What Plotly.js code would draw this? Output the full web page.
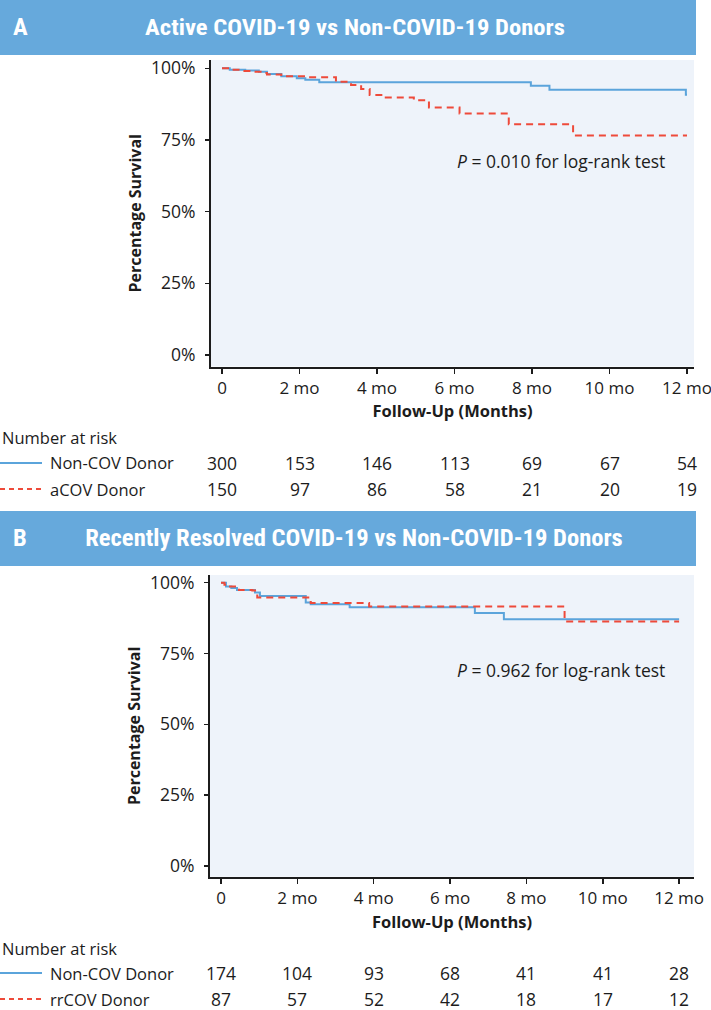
<!DOCTYPE html>
<html><head><meta charset="utf-8">
<script src="https://cdn.plot.ly/plotly-3.0.1.min.js"></script>
<style>html,body{margin:0;padding:0;background:#fff}#chart{width:711px;height:1010px}</style>
</head><body><div id="chart"></div>
<script>
// ---- Data ----
const monthsA_nonCov = [0, 0.2, 0.6, 0.95, 1.16, 1.53, 1.93, 2.15, 2.51, 7.97, 8.45, 11.97, 12.0];
const survA_nonCov   = [100, 99.5, 99.2, 98.8, 98.0, 97.2, 96.5, 96.0, 95.1, 93.9, 92.5, 90.8, 90.8];
const monthsA_aCov   = [0, 0.3, 0.55, 0.8, 1.05, 1.16, 1.53, 2.2, 2.94, 3.33, 3.59, 3.81, 4.2, 4.95, 5.34, 6.13, 7.4, 9.06, 12.0];
const survA_aCov     = [100, 99.5, 99.1, 98.8, 98.4, 97.8, 97.2, 96.9, 95.3, 94.2, 92.8, 90.7, 89.8, 88.9, 86.3, 84.2, 80.5, 76.6, 76.6];

const monthsB_nonCov = [0, 0.13, 0.27, 0.42, 0.89, 1.02, 2.22, 2.35, 3.37, 6.65, 7.41, 12.0];
const survB_nonCov   = [100, 98.6, 98.1, 97.4, 96.5, 95.3, 93.0, 92.4, 91.3, 89.3, 87.1, 87.1];
const monthsB_rrCov  = [0, 0.09, 0.18, 0.47, 0.82, 0.95, 2.35, 3.88, 9.0, 12.0];
const survB_rrCov    = [100, 99.3, 98.6, 97.4, 97.2, 94.8, 92.8, 91.6, 86.3, 86.3];

const xTickVals  = [0, 2, 4, 6, 8, 10, 12];
const xTickText  = ["0", "2 mo", "4 mo", "6 mo", "8 mo", "10 mo", "12 mo"];
const yTickVals  = [0, 25, 50, 75, 100];
const yTickText  = ["0%", "25%", "50%", "75%", "100%"];

const riskA_nonCov = [300, 153, 146, 113, 69, 67, 54];
const riskA_aCov   = [150, 97, 86, 58, 21, 20, 19];
const riskB_nonCov = [174, 104, 93, 68, 41, 41, 28];
const riskB_rrCov  = [87, 57, 52, 42, 18, 17, 12];

const titleA = "Active COVID-19 vs Non-COVID-19 Donors";
const titleB = "Recently Resolved COVID-19 vs Non-COVID-19 Donors";
const pTextA = "<i>P</i> = 0.010 for log-rank test";
const pTextB = "<i>P</i> = 0.962 for log-rank test";
const seriesNames = {A: ["Non-COV Donor", "aCOV Donor"], B: ["Non-COV Donor", "rrCOV Donor"]};

// ---- Styling / geometry ----
const W = 711, H = 1010;
const px = v => v / W;
const py = v => 1 - v / H;
const BLUE = "#5BA4DB", RED = "#EE4A3A", BAR = "#66A9DC", INK = "#1c1c1c", BG = "#EEF3FA";
const FONT = "Open Sans, Noto Sans, sans-serif";
const HFONT = "Roboto Condensed, Liberation Sans Narrow, Roboto, sans-serif";

function xaxisCfg(domain, range) {
  return {
    domain: domain, range: range, tickvals: xTickVals, ticktext: xTickText,
    showline: true, linecolor: INK, linewidth: 2, ticks: "outside", ticklen: 5, tickwidth: 1.5, tickcolor: INK,
    showgrid: false, zeroline: false, fixedrange: true, ticklabeloverflow: "allow",
    tickfont: {family: FONT, size: 17, color: INK},
    title: {text: "<b>Follow-Up (Months)</b>", font: {family: FONT, size: 16.5, color: INK}, standoff: 8}
  };
}
function yaxisCfg(domain, range, anchor) {
  return {
    domain: domain, range: range, tickvals: yTickVals, ticktext: yTickText, anchor: anchor,
    showline: true, linecolor: INK, linewidth: 2, ticks: "outside", ticklen: 4, tickwidth: 1.5, tickcolor: INK,
    showgrid: false, zeroline: false, fixedrange: true, ticklabelstandoff: 6,
    tickfont: {family: FONT, size: 17.5, color: INK},
    title: {text: "<b>Percentage Survival</b>", font: {family: FONT, size: 16, color: INK}, standoff: 5}
  };
}

const traces = [
  {x: monthsA_nonCov, y: survA_nonCov, xaxis: "x", yaxis: "y", mode: "lines", line: {shape: "hv", color: BLUE, width: 2}, name: seriesNames.A[0]},
  {x: monthsA_aCov, y: survA_aCov, xaxis: "x", yaxis: "y", mode: "lines", line: {shape: "hv", color: RED, width: 2, dash: "7px,5px"}, name: seriesNames.A[1]},
  {x: monthsB_nonCov, y: survB_nonCov, xaxis: "x2", yaxis: "y2", mode: "lines", line: {shape: "hv", color: BLUE, width: 2}, name: seriesNames.B[0]},
  {x: monthsB_rrCov, y: survB_rrCov, xaxis: "x2", yaxis: "y2", mode: "lines", line: {shape: "hv", color: RED, width: 2, dash: "7px,5px"}, name: seriesNames.B[1]}
];

const annotations = [];
const shapes = [];

function header(top, bottom, letter, title, titleX) {
  shapes.push({type: "rect", xref: "paper", yref: "paper", x0: 0, x1: px(696), y0: py(bottom), y1: py(top), fillcolor: BAR, line: {width: 0}, layer: "below"});
  const yc = py((top + bottom) / 2);
  annotations.push({xref: "paper", yref: "paper", x: px(11), y: yc, xanchor: "left", yanchor: "middle", showarrow: false,
    text: "<b>" + letter + "</b>", font: {family: HFONT, size: 23, color: "#ffffff"}});
  annotations.push({xref: "paper", yref: "paper", x: px(titleX), y: yc, xanchor: "left", yanchor: "middle", showarrow: false,
    text: "<b>" + title + "</b>", font: {family: HFONT, size: 23, color: "#ffffff"}});
}
header(0, 55, "A", titleA, 143);
header(511, 566, "B", titleB, 83);

function riskTable(xref, yHead, names, r1, r2) {
  annotations.push({xref: "paper", yref: "paper", x: 0, y: py(yHead), xanchor: "left", yanchor: "middle", showarrow: false,
    text: "Number at risk", font: {family: FONT, size: 16.5, color: INK}});
  const rows = [[names[0], r1, yHead + 25, BLUE, "solid"], [names[1], r2, yHead + 51, RED, "dash"]];
  rows.forEach(([nm, vals, yy, col, dash]) => {
    shapes.push({type: "line", xref: "paper", yref: "paper", x0: 0, x1: px(42), y0: py(yy), y1: py(yy),
      line: {color: col, width: 2, dash: dash === "dash" ? "5px,4px" : "solid"}});
    annotations.push({xref: "paper", yref: "paper", x: px(48), y: py(yy), xanchor: "left", yanchor: "middle", showarrow: false,
      text: nm, font: {family: FONT, size: 16.5, color: INK}});
    vals.forEach((v, i) => annotations.push({xref: xref, yref: "paper", x: xTickVals[i], y: py(yy), xanchor: "center", yanchor: "middle",
      showarrow: false, text: String(v), font: {family: FONT, size: 17.5, color: INK}}));
  });
}
riskTable("x", 438, seriesNames.A, riskA_nonCov, riskA_aCov);
riskTable("x2", 948, seriesNames.B, riskB_nonCov, riskB_rrCov);

annotations.push({xref: "paper", yref: "paper", x: px(455), y: py(161), xanchor: "left", yanchor: "middle", showarrow: false,
  text: pTextA, font: {family: FONT, size: 17.5, color: INK}});
annotations.push({xref: "paper", yref: "paper", x: px(455), y: py(670), xanchor: "left", yanchor: "middle", showarrow: false,
  text: pTextB, font: {family: FONT, size: 17.5, color: INK}});

const layout = {
  width: W, height: H, margin: {l: 0, r: 0, t: 0, b: 0}, showlegend: false,
  paper_bgcolor: "#ffffff", plot_bgcolor: BG,
  xaxis: Object.assign(xaxisCfg([px(211), px(694)], [-0.284, 12.18]), {anchor: "y"}),
  yaxis: yaxisCfg([py(366.5), py(60)], [-4.0, 102.9], "x"),
  xaxis2: Object.assign(xaxisCfg([px(210), px(694)], [-0.288, 12.39]), {anchor: "y2"}),
  yaxis2: yaxisCfg([py(876.7), py(575)], [-3.8, 102.7], "x2"),
  shapes: shapes, annotations: annotations
};

// Condense the header titles to the banner's narrow lettering width
const headerTargets = [[titleA, 420], [titleB, 538]];
Plotly.newPlot("chart", traces, layout, {displayModeBar: false, staticPlot: true}).then(() => {
  const texts = Array.from(document.querySelectorAll("#chart .annotation-text"));
  let scale = 1;
  headerTargets.forEach(([t, target]) => {
    const el = texts.find(e => e.textContent === t);
    if (!el) return;
    const bb = el.getBBox();
    const s = Math.max(0.6, Math.min(1.3, target / bb.width));
    scale = s;
    const prev = el.getAttribute("transform") || "";
    el.setAttribute("transform", prev + ` translate(${bb.x * (1 - s)},0) scale(${s},1)`);
  });
  ["A", "B"].forEach(letter => {
    const el = texts.find(e => e.textContent === letter);
    if (!el) return;
    const bb = el.getBBox();
    const prev = el.getAttribute("transform") || "";
    el.setAttribute("transform", prev + ` translate(${bb.x * (1 - scale)},0) scale(${scale},1)`);
  });
});
</script>
</body></html>
